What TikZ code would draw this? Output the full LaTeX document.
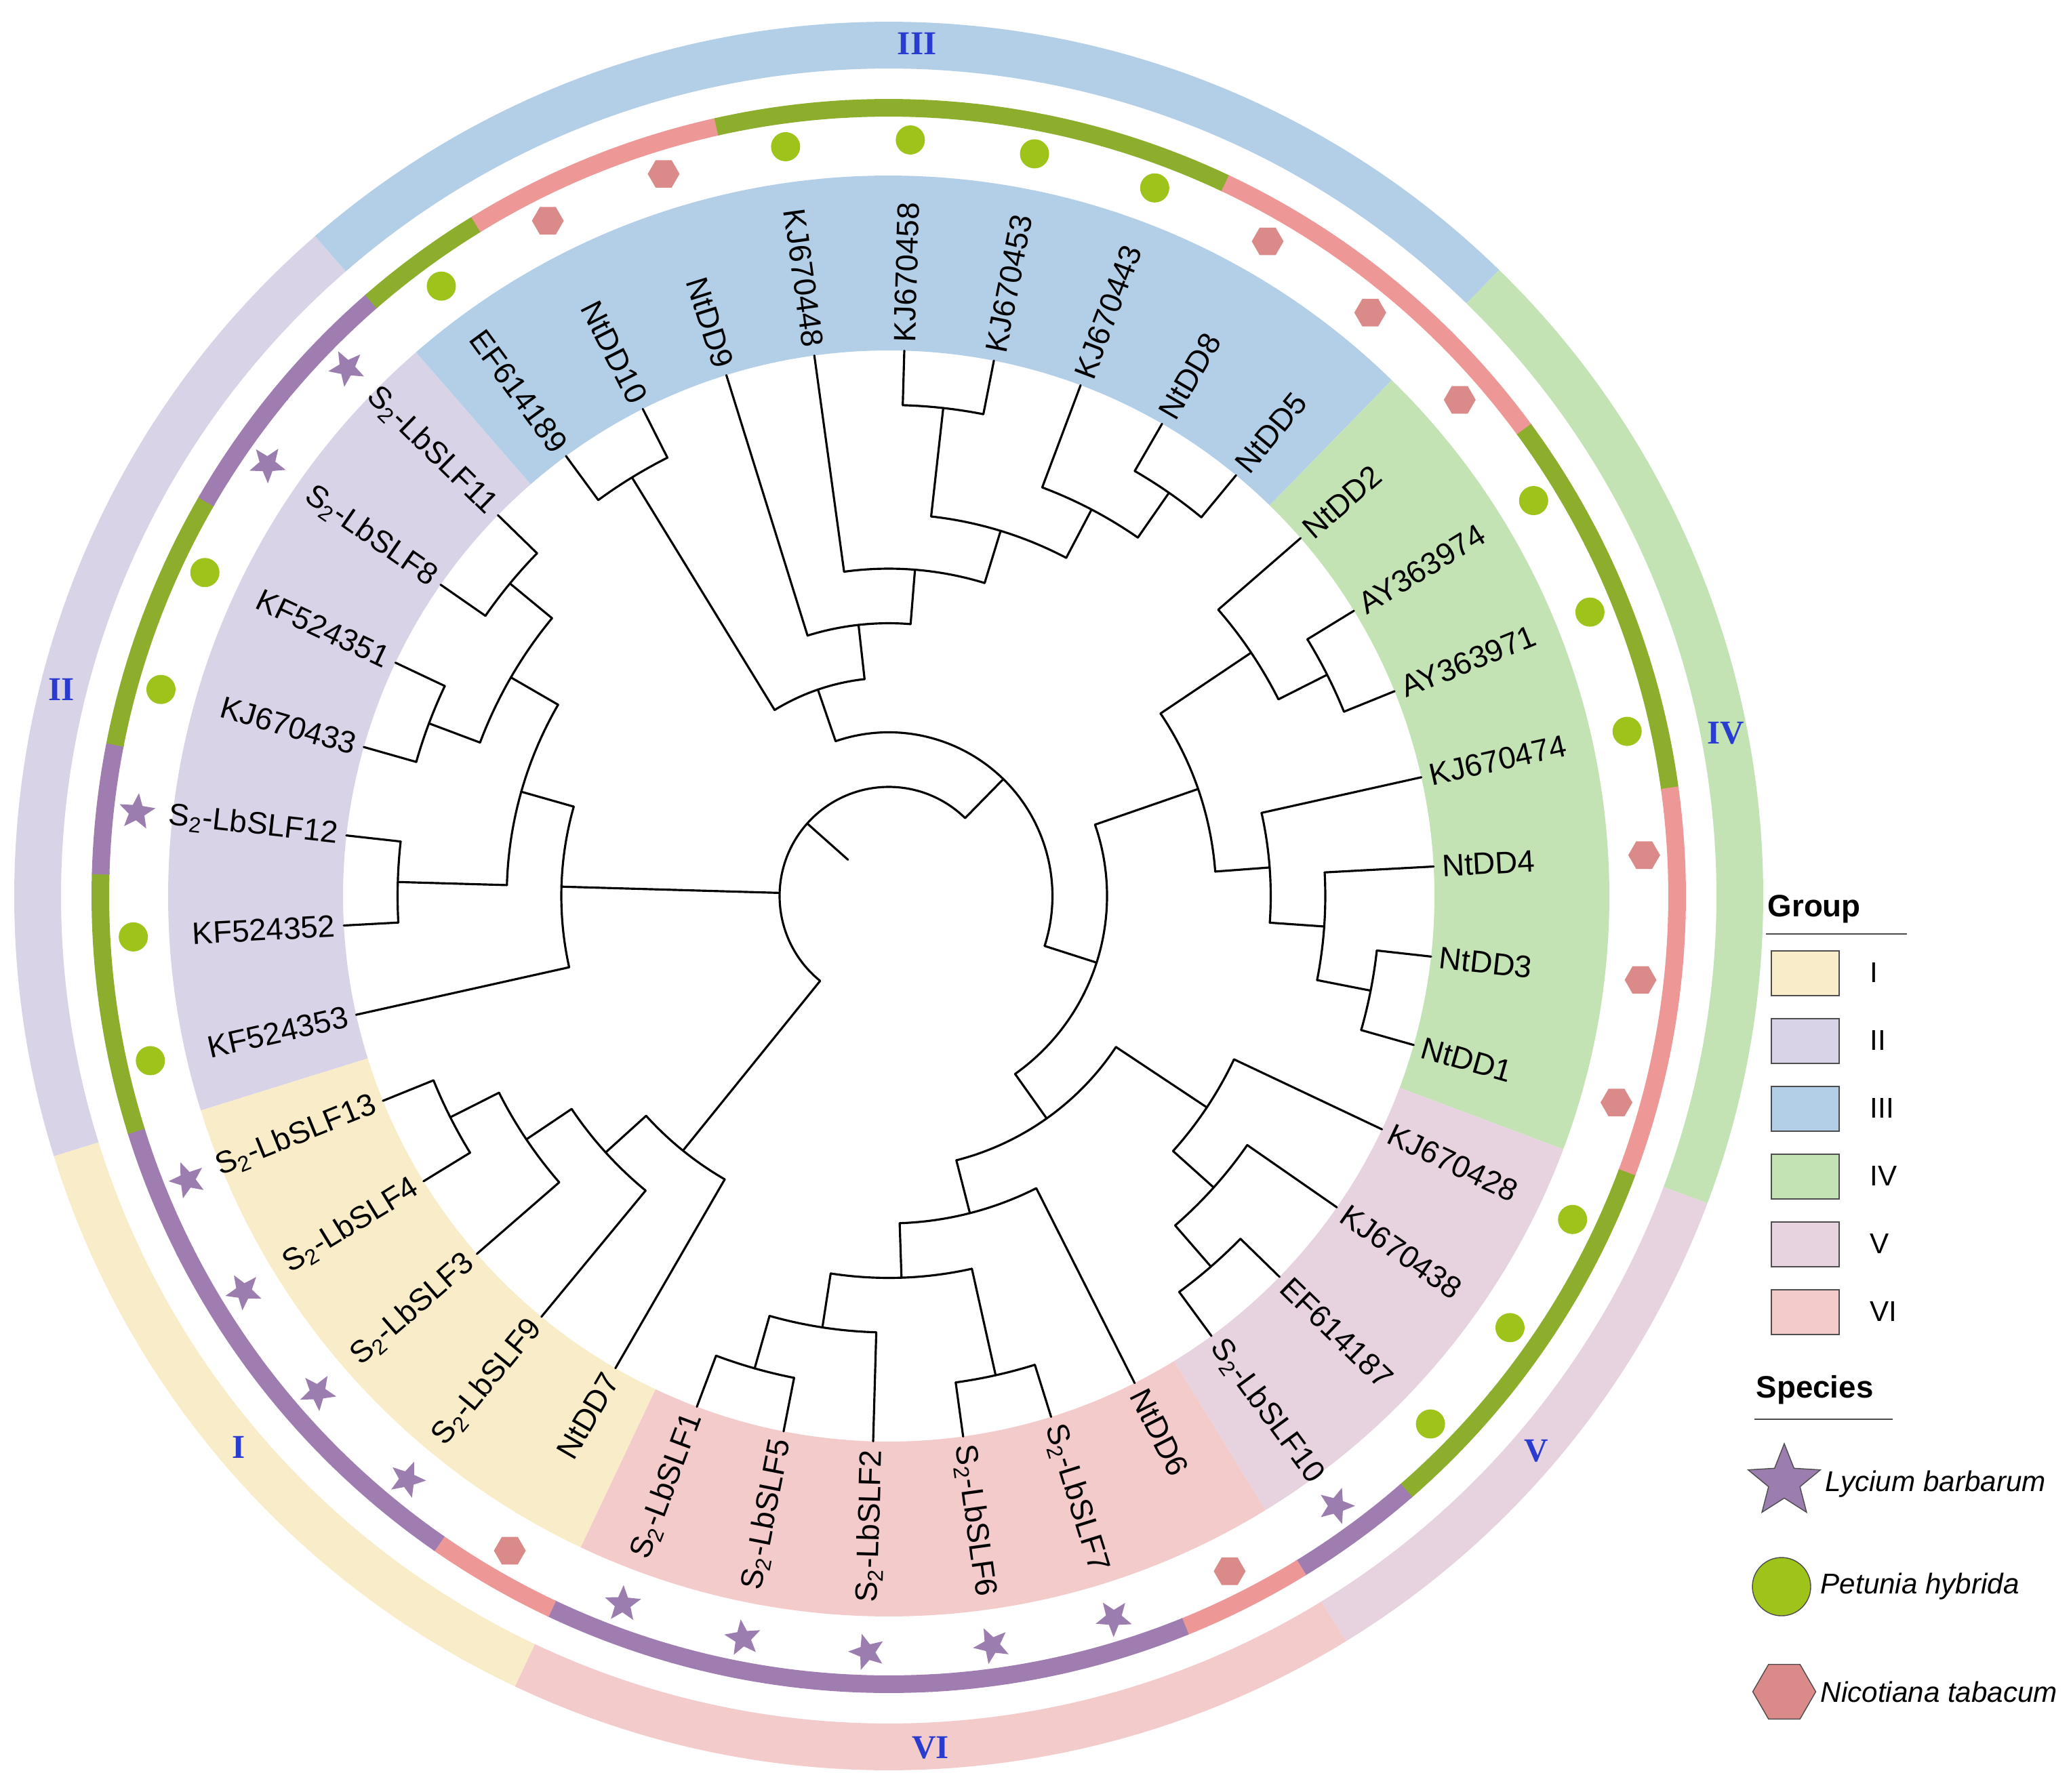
\documentclass[tikz,border=0pt]{standalone}
\usepackage{fontspec}
\setmainfont{Liberation Sans}
\newfontfamily\numfont{Liberation Serif}
\usetikzlibrary{shapes.geometric}

\definecolor{grpI}{HTML}{F8ECC9}
\definecolor{grpII}{HTML}{D9D3E8}
\definecolor{grpIII}{HTML}{B3CEE7}
\definecolor{grpIV}{HTML}{C4E3B5}
\definecolor{grpV}{HTML}{E7D3DF}
\definecolor{grpVI}{HTML}{F3CBCB}
\definecolor{ringL}{HTML}{9F7DB1}
\definecolor{ringP}{HTML}{8DAE2C}
\definecolor{ringN}{HTML}{EE9797}
\definecolor{dotP}{HTML}{9EC41B}
\definecolor{starL}{HTML}{9C7DAF}
\definecolor{hexN}{HTML}{DB8A8A}
\definecolor{numblue}{HTML}{2A3CCF}

% leaf angle: \thz - \dth * index ; level radius: \lv * level
\def\thz{183.1}
\def\dth{9.473684}
\def\lv{0.805}
\newcommand\Stwo{S\textsubscript{2}}
\newcommand\bandseg[5]{%
  \fill[#5] (#1:#3) arc[start angle=#1, end angle=#2, radius=#3]
    -- (#2:#4) arc[start angle=#2, end angle=#1, radius=#4] -- cycle;}

\begin{document}
\begin{tikzpicture}[
    branch/.style={line width=0.9pt, line cap=round, line join=round},
    leaf/.style={font=\fontsize{13}{15}\selectfont, inner sep=0pt},
    grplab/.style={font=\numfont\bfseries\fontsize{14}{16}\selectfont, text=numblue, inner sep=0pt},
    symP/.style={circle, fill=dotP, minimum size=0.43cm, inner sep=0pt},
    symL/.style={star, star points=5, star point ratio=2.3, fill=starL, minimum size=0.56cm, inner sep=0pt, rotate=\srot},
    symN/.style={regular polygon, regular polygon sides=6, fill=hexN, minimum size=0.47cm, inner sep=0pt},
    legtitle/.style={font=\bfseries\fontsize{13}{15}\selectfont, inner sep=0pt},
    legtext/.style={font=\fontsize{12}{14}\selectfont, inner sep=0pt},
    legbox/.style={rectangle, draw=black!70, line width=0.6pt, minimum width=1cm, minimum height=0.66cm, inner sep=0pt},
  ]
  \useasboundingbox (-13.11,-13.21) rectangle (17.44,13.22);

  % group sectors, inner band and outer ring
  \foreach \a/\b/\col/\gl/\ga in {197.32/130.99/grpII/II/166, 130.99/45.73/grpIII/III/88.1,
      45.73/-20.58/grpIV/IV/11, -20.58/-58.47/grpV/V/-40.6,
      -58.47/-115.31/grpVI/VI/-87.2, 244.69/197.32/grpI/I/220.3}{
    \bandseg{\a}{\b}{8.05}{10.63}{\col}
    \bandseg{\a}{\b}{12.21}{12.90}{\col}
    \node[grplab] (g\gl) at (\ga:12.58) {\gl};
  }

  % leaves: index / label / species / parent level
  \foreach \k/\nm/\sp/\up in {
      0/KF524352/P/9, 1/\Stwo-LbSLF12/L/9, 2/KJ670433/P/9, 3/KF524351/P/9,
      4/\Stwo-LbSLF8/L/9, 5/\Stwo-LbSLF11/L/9, 6/EF614189/P/9, 7/NtDD10/N/9,
      8/NtDD9/N/5, 9/KJ670448/P/6, 10/KJ670458/P/9, 11/KJ670453/P/9,
      12/KJ670443/P/8, 13/NtDD8/N/9, 14/NtDD5/N/9, 15/NtDD2/N/8,
      16/AY363974/P/9, 17/AY363971/P/9, 18/KJ670474/P/7, 19/NtDD4/N/8,
      20/NtDD3/N/9, 21/NtDD1/N/9, 22/KJ670428/P/7, 23/KJ670438/P/8,
      24/EF614187/P/9, 25/\Stwo-LbSLF10/L/9, 26/NtDD6/N/6, 27/\Stwo-LbSLF7/L/9,
      28/\Stwo-LbSLF6/L/9, 29/\Stwo-LbSLF2/L/8, 30/\Stwo-LbSLF5/L/9, 31/\Stwo-LbSLF1/L/9,
      32/NtDD7/N/6, 33/\Stwo-LbSLF9/L/7, 34/\Stwo-LbSLF3/L/8, 35/\Stwo-LbSLF4/L/9,
      36/\Stwo-LbSLF13/L/9, 37/KF524353/P/6}{
    \pgfmathsetmacro\ang{\thz-\dth*\k}
    \pgfmathsetmacro\aL{\ang+4.8}
    \pgfmathsetmacro\aR{\ang-4.8}
    \pgfmathsetmacro\rp{\up*\lv}
    \pgfmathsetmacro\srot{\ang-180}
    \pgfmathtruncatemacro\flip{cos(\ang)<0}
    \bandseg{\aL}{\aR}{11.50}{11.76}{ring\sp}
    \node[sym\sp] (sym\k) at (\ang:11.16) {};
    \coordinate (tip\k) at (\ang:8.05);
    \draw[branch] (tip\k) -- (\ang:\rp);
    \ifnum\flip=1
      \node[leaf, rotate=\ang+180, anchor=east] (lab\k) at (\ang:8.17) {\nm};
    \else
      \node[leaf, rotate=\ang, anchor=west] (lab\k) at (\ang:8.17) {\nm};
    \fi
  }

  % clades: name / level / first child / second child / parent level
  \foreach \nm/\lev/\ua/\ub/\up in {
      F/9/0/1/7, C/9/2/3/8, A/9/4/5/8, D/8/2.5/4.5/7, E/7/0.5/3.5/6, G/6/-1/2/2,
      FF/9/6/7/4, AA/9/10/11/7, CC/9/13/14/8, EE/8/12/13.5/7, DD/7/10.5/12.75/6,
      ZZ/6/9/11.625/5, Z/5/8/10.3125/4, Y/4/6.5/9.15625/3,
      JJ/9/16/17/8, HH/8/15/16.5/6, LL/9/20/21/8, KK/8/19/20.5/7, II/7/18/19.75/6,
      GG/6/15.75/18.875/4,
      O/9/24/25/8, N/8/23/24.5/7, M/7/22/23.75/5, R/9/27/28/7, T/9/30/31/8,
      S/8/29/30.5/7, Q/7/27.5/29.75/6, P/6/26/28.625/5, L/5/22.875/27.3125/4,
      K/4/17.3125/25.09375/3, J/3/7.828125/21.203125/2,
      X1/9/35/36/8, X2/8/34/35.5/7, V/7/33/34.75/6, H/6/32/33.875/2,
      root/2/-5.0625/14.515625/1}{
    \pgfmathsetmacro\angA{\thz-\dth*\ua}
    \pgfmathsetmacro\angB{\thz-\dth*\ub}
    \pgfmathsetmacro\angM{(\angA+\angB)/2}
    \pgfmathsetmacro\rr{\lev*\lv}
    \pgfmathsetmacro\rp{\up*\lv}
    \coordinate (n\nm) at (\angM:\rr);
    \draw[branch] (\angA:\rr) arc[start angle=\angA, end angle=\angB, radius=\rr];
    \draw[branch] (n\nm) -- (\angM:\rp);
  }

  % legend
  \node[legtitle, anchor=base west] (grouptitle) at (12.96,-0.30) {Group};
  \draw[line width=0.6pt, black!70] (12.94,-0.56) -- (15.02,-0.56);
  \foreach \i/\col/\gl in {0/grpI/I, 1/grpII/II, 2/grpIII/III, 3/grpIV/IV, 4/grpV/V, 5/grpVI/VI}{
    \node[legbox, fill=\col, anchor=north west] (box\i) at (13.01,{-0.80-\i}) {};
    \node[legtext, anchor=west] (boxlab\i) at (14.47,{-1.13-\i}) {\gl};
  }
  \node[legtitle, anchor=base west] (spectitle) at (12.79,-7.40) {Species};
  \draw[line width=0.6pt, black!70] (12.77,-7.72) -- (14.81,-7.72);
  \node[star, star points=5, star point ratio=2.3, fill=starL, draw=black!70,
        minimum size=1.12cm, inner sep=0pt] (legL) at (13.21,-8.64) {};
  \node[legtext, anchor=west] (legLt) at (13.81,-8.68) {\itshape Lycium barbarum};
  \node[circle, fill=dotP, draw=black!70, minimum size=0.86cm, inner sep=0pt] (legP) at (13.17,-10.19) {};
  \node[legtext, anchor=west] (legPt) at (13.74,-10.19) {\itshape Petunia hybrida};
  \node[regular polygon, regular polygon sides=6, fill=hexN, draw=black!70,
        minimum size=0.93cm, inner sep=0pt] (legN) at (13.21,-11.74) {};
  \node[legtext, anchor=west] (legNt) at (13.74,-11.74) {\itshape Nicotiana tabacum};
\end{tikzpicture}
\end{document}
